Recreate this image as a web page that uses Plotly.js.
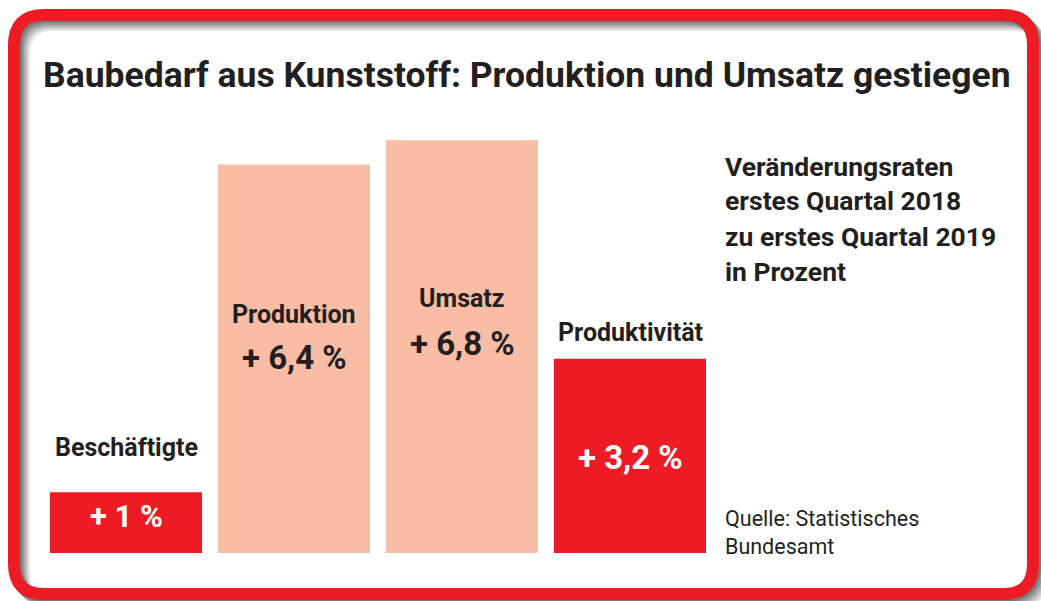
<!DOCTYPE html>
<html>
<head>
<meta charset="utf-8">
<script src="https://cdn.plot.ly/plotly-3.0.1.min.js"></script>
<style>html,body{margin:0;padding:0;background:#fff;}#chart{width:1041px;height:601px;}</style>
</head>
<body>
<div id="chart"></div>
<script>
// ---- data ----
const categories = ["Beschäftigte", "Produktion", "Umsatz", "Produktivität"];
const values = [1, 6.4, 6.8, 3.2];
const barColors = ["#ED1C24", "#F9BDA5", "#F9BDA5", "#ED1C24"];
const titleText = "Baubedarf aus Kunststoff: Produktion und Umsatz gestiegen";
const noteLines = ["Veränderungsraten", "erstes Quartal 2018", "zu erstes Quartal 2019", "in Prozent"];
const sourceLines = ["Quelle: Statistisches", "Bundesamt"];

// ---- helpers (pixel -> paper, figure is 1041 x 601 with zero margins) ----
const W = 1041, H = 601;
const px = x => x / W;
const py = y => 1 - y / H;
const fmt = v => "+ " + String(v).replace(".", ",") + " %";

function roundRect(x0, y0, x1, y1, r) {
  const P = (x, y) => px(x) + "," + py(y);
  return "M" + P(x0 + r, y0) + " L" + P(x1 - r, y0) + " Q" + P(x1, y0) + " " + P(x1, y0 + r) +
    " L" + P(x1, y1 - r) + " Q" + P(x1, y1) + " " + P(x1 - r, y1) +
    " L" + P(x0 + r, y1) + " Q" + P(x0, y1) + " " + P(x0, y1 - r) +
    " L" + P(x0, y0 + r) + " Q" + P(x0, y0) + " " + P(x0 + r, y0) + " Z";
}

const FONT = "Roboto, 'Noto Sans', sans-serif";
const DARK = "#231F20";

// frame
const shapes = [];
const shadowCols = ["#e6e6e6", "#cccccc", "#b0b0b0", "#949494", "#7a7a7a"];
const shadowOff = [10, 8, 6, 4, 2];
shadowCols.forEach((c, i) => {
  const d = shadowOff[i];
  shapes.push({type: "path", xref: "paper", yref: "paper", layer: "below",
    path: roundRect(14 + d, 15 + d, 1033 + d, 594 + d, 30),
    line: {color: c, width: 12}});
});
shapes.push({type: "path", xref: "paper", yref: "paper", layer: "below",
  path: roundRect(14, 15, 1033, 594, 30),
  line: {color: "#ED1C24", width: 12}});

const annotations = [];
annotations.push({xref: "paper", yref: "paper", x: px(41), y: py(75), xanchor: "left", yanchor: "middle",
  text: "<b>" + titleText + "</b>", showarrow: false, font: {family: FONT, size: 35.5, color: DARK}});

noteLines.forEach((t, i) => {
  annotations.push({xref: "paper", yref: "paper", x: px(723), y: py(166 + i * 35), xanchor: "left", yanchor: "middle",
    text: "<b>" + t + "</b>", showarrow: false, font: {family: FONT, size: 26.5, color: DARK}});
});
sourceLines.forEach((t, i) => {
  annotations.push({xref: "paper", yref: "paper", x: px(723), y: py(518 + i * 28), xanchor: "left", yanchor: "middle",
    text: t, showarrow: false, font: {family: FONT, size: 21.5, color: DARK}});
});

// bar labels: name and value positions (pixel y of centers)
const nameY = [447, 314, 298, 333];
const valY = [516, 357, 343, 457];
const valColor = ["#ffffff", DARK, DARK, "#ffffff"];
const valSize = [31, 33, 33, 33];
categories.forEach((c, i) => {
  annotations.push({xref: "x", yref: "paper", x: c, y: py(nameY[i]), xanchor: "center", yanchor: "middle",
    text: "<b>" + c + "</b>", showarrow: false, font: {family: FONT, size: 25, color: DARK}});
  annotations.push({xref: "x", yref: "paper", x: c, y: py(valY[i]), xanchor: "center", yanchor: "middle",
    text: "<b>" + fmt(values[i]) + "</b>", showarrow: false, font: {family: FONT, size: valSize[i], color: valColor[i]}});
});

const trace = {
  type: "bar",
  x: categories,
  y: values,
  width: 0.905,
  marker: {color: barColors, line: {width: 0}},
  hoverinfo: "skip"
};

const layout = {
  width: W, height: H,
  margin: {l: 0, r: 0, t: 0, b: 0, pad: 0},
  paper_bgcolor: "#ffffff",
  plot_bgcolor: "rgba(0,0,0,0)",
  showlegend: false,
  xaxis: {domain: [42 / W, 714 / W], type: "category", range: [-0.5, 3.5], visible: false, fixedrange: true},
  yaxis: {domain: [48 / H, 473 / H], range: [0, 7], visible: false, fixedrange: true},
  shapes: shapes,
  annotations: annotations
};

Plotly.newPlot("chart", [trace], layout, {displayModeBar: false, staticPlot: true});
</script>
</body>
</html>
